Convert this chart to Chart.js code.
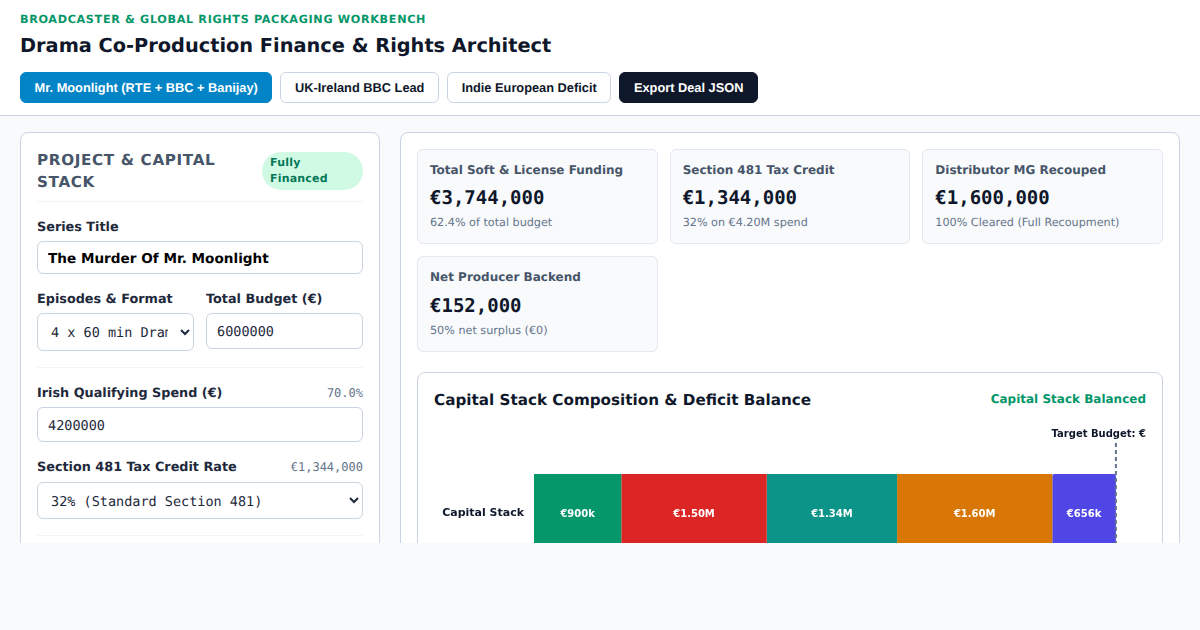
<!DOCTYPE html>
<html>
<head>
<meta charset="utf-8">
<title>Drama Co-Production Finance & Rights Architect</title>
<script src="https://cdn.jsdelivr.net/npm/chart.js@4"></script>
<style>
* { box-sizing: border-box; text-rendering: geometricPrecision; }
html, body { margin: 0; height: 630px; overflow: hidden; background: #f8fafc; font-family: "DejaVu Sans", sans-serif; color: #0f172a; }
header { height: 116px; background: #fff; border-bottom: 1px solid #cbd5e1; padding: 13px 20px 0; }
.eyebrow { font-size: 11.2px; line-height: 13px; font-weight: 700; letter-spacing: .67px; color: #059669; }
h1 { font-size: 19.35px; line-height: 26px; font-weight: 700; margin: 7px 0 0; color: #0f172a; }
.btns { display: flex; gap: 8px; margin-top: 13px; }
.btn { height: 31px; padding: 0 13.6px; border: 1px solid #cbd5e1; border-radius: 6px; background: #fff; color: #0f172a; font: 700 12.8px "Liberation Sans", sans-serif; display: flex; align-items: center; }
.btn.blue { background: #0284c7; border-color: #0284c7; color: #fff; }
.btn.dark { background: #0f172a; border-color: #0f172a; color: #fff; }
main { position: relative; height: 427px; overflow: hidden; }
.panel { position: absolute; top: 16px; background: #fff; border: 1px solid #cbd5e1; border-radius: 8px; height: 600px; }
.left { left: 20px; width: 360px; padding: 16px; }
.right { left: 400px; width: 780px; padding: 16px; }
.phead { display: flex; justify-content: space-between; align-items: center; border-bottom: 1px solid #f1f5f9; height: 53px; padding: 1px 0 9px; }
.phead h2 { margin: 0; font-size: 15.2px; line-height: 22px; font-weight: 700; letter-spacing: .65px; color: #475569; width: 200px; }
.pill { width: 101px; height: 38px; border-radius: 19px; background: #d1fae5; color: #047857; font-size: 11px; line-height: 16px; font-weight: 700; padding: 3px 8px; letter-spacing: .2px; }
label { position: relative; top: 1px; font-size: 12.8px; line-height: 16px; font-weight: 700; color: #1e293b; display: block; }
.field { position: absolute; }
input, select { display: block; width: 100%; border: 1px solid #cbd5e1; border-radius: 6px; background: #fff; color: #1e293b; font: 13.5px "DejaVu Sans Mono", monospace; padding: 2px 10px 0; margin: 0; outline: 0; }
.mono-note { position: absolute; right: 0; top: 1px; font: 12px "DejaVu Sans Mono", monospace; color: #64748b; }
.rule { position: absolute; left: 16px; width: 326px; height: 1px; background: #f1f5f9; }
.cards { position: absolute; left: 16px; top: 16px; width: 746px; display: grid; grid-template-columns: repeat(3, 1fr); column-gap: 12px; row-gap: 12px; }
.card { height: 95px; background: #f8fafc; border: 1px solid #e2e8f0; border-radius: 6px; padding: 12px; }
.card.tall { height: 96px; }
.card b { display: block; font-size: 12px; line-height: 16px; color: #475569; }
.card strong { position: relative; top: 1px; display: block; font: 700 19px/24px "DejaVu Sans Mono", monospace; color: #0f172a; margin-top: 7px; }
.card.tall strong { margin-top: 8px; }
.card span { display: block; font-size: 11.2px; line-height: 14px; color: #64748b; margin-top: 7px; }
.chartcard { position: absolute; left: 16px; top: 239px; width: 746px; height: 400px; border: 1px solid #cbd5e1; border-radius: 8px; background: #fff; }
.chartcard h3 { position: absolute; left: 16px; top: 17px; margin: 0; font-size: 15.2px; line-height: 20px; font-weight: 700; color: #0f172a; }
.status { position: absolute; right: 16px; top: 18px; font-size: 12px; line-height: 16px; font-weight: 700; color: #059669; }
.canvasbox { position: absolute; left: 16px; top: 47px; width: 712px; height: 200px; }
</style>
</head>
<body>
<header>
  <div class="eyebrow">BROADCASTER &amp; GLOBAL RIGHTS PACKAGING WORKBENCH</div>
  <h1>Drama Co-Production Finance &amp; Rights Architect</h1>
  <div class="btns">
    <div class="btn blue">Mr. Moonlight (RTE + BBC + Banijay)</div>
    <div class="btn">UK-Ireland BBC Lead</div>
    <div class="btn">Indie European Deficit</div>
    <div class="btn dark">Export Deal JSON</div>
  </div>
</header>
<main>
  <section class="panel left">
    <div class="phead"><h2>PROJECT &amp; CAPITAL STACK</h2><div class="pill">Fully Financed</div></div>
    <div class="field" style="left:16px;top:86px;width:326px"><label>Series Title</label>
      <input value="The Murder Of Mr. Moonlight" style="height:33px;margin-top:6px;font:700 13.6px 'DejaVu Sans',sans-serif;color:#000"></div>
    <div class="field" style="left:16px;top:158px;width:157px"><label>Episodes &amp; Format</label>
      <select style="height:38px;margin-top:6px;padding:2px 9px 0"><option>4 x 60 min Drama</option></select></div>
    <div class="field" style="left:185px;top:158px;width:157px"><label>Total Budget (€)</label>
      <input value="6000000" style="height:36px;margin-top:6px"></div>
    <div class="rule" style="top:234px"></div>
    <div class="field" style="left:16px;top:252px;width:326px"><label>Irish Qualifying Spend (€)</label><div class="mono-note">70.0%</div>
      <input value="4200000" style="height:35px;margin-top:6px"></div>
    <div class="field" style="left:16px;top:326px;width:326px"><label>Section 481 Tax Credit Rate</label><div class="mono-note">€1,344,000</div>
      <select style="height:37px;margin-top:7px;padding:2px 9px 0"><option>32% (Standard Section 481)</option></select></div>
    <div class="rule" style="top:402px"></div>
  </section>
  <section class="panel right">
    <div class="cards">
      <div class="card"><b>Total Soft &amp; License Funding</b><strong>€3,744,000</strong><span>62.4% of total budget</span></div>
      <div class="card"><b>Section 481 Tax Credit</b><strong>€1,344,000</strong><span>32% on €4.20M spend</span></div>
      <div class="card"><b>Distributor MG Recouped</b><strong>€1,600,000</strong><span>100% Cleared (Full Recoupment)</span></div>
      <div class="card tall"><b>Net Producer Backend</b><strong>€152,000</strong><span>50% net surplus (€0)</span></div>
    </div>
    <div class="chartcard">
      <h3>Capital Stack Composition &amp; Deficit Balance</h3>
      <div class="status">Capital Stack Balanced</div>
      <div class="canvasbox"><canvas id="stackChart"></canvas></div>
    </div>
  </section>
</main>
<script>
const categories = ['Capital Stack'];
const seriesNames = ['Broadcaster Licence', 'Distribution Soft Money', 'Section 481', 'Distributor MG', 'Equity / Deficit'];
const seriesValues = [900000, 1500000, 1344000, 1600000, 656000];
const seriesLabels = ['€900k', '€1.50M', '€1.34M', '€1.60M', '€656k'];
const seriesColors = ['#059669', '#dc2626', '#0d9488', '#d97706', '#4f46e5'];
const targetBudget = 6000000;
const axisMax = 6300000;
const targetLabel = 'Target Budget: €';

const stackLabels = {
    id: 'stackLabels',
    afterDatasetsDraw(chart) {
        const ctx = chart.ctx;
        ctx.save();
        ctx.fillStyle = '#fff';
        ctx.font = '700 10px "DejaVu Sans"';
        ctx.textAlign = 'center';
        ctx.textBaseline = 'middle';
        chart.data.datasets.forEach((ds, i) => {
            const bar = chart.getDatasetMeta(i).data[0];
            ctx.fillText(seriesLabels[i], (bar.x + bar.base) / 2, bar.y + 0.5);
        });
        ctx.restore();
    }
};

const targetLine = {
    id: 'targetLine',
    afterDatasetsDraw(chart) {
        const ctx = chart.ctx;
        const x = chart.scales.x.getPixelForValue(targetBudget);
        ctx.save();
        ctx.strokeStyle = '#64748b';
        ctx.lineWidth = 2;
        ctx.setLineDash([4, 3]);
        ctx.beginPath();
        ctx.moveTo(x, chart.chartArea.top);
        ctx.lineTo(x, chart.chartArea.bottom);
        ctx.stroke();
        ctx.setLineDash([]);
        ctx.fillStyle = '#0f172a';
        ctx.font = '700 10px "DejaVu Sans"';
        ctx.textAlign = 'right';
        ctx.textBaseline = 'middle';
        ctx.fillText(targetLabel, chart.width, chart.chartArea.top - 9);
        ctx.restore();
    }
};

new Chart(document.getElementById('stackChart'), {
    type: 'bar',
    data: {
        labels: categories,
        datasets: seriesValues.map((v, i) => ({
            label: seriesNames[i],
            data: [v],
            backgroundColor: seriesColors[i],
            borderColor: '#ffffff',
            borderWidth: 0,
            borderRadius: 2,
            borderSkipped: false,
            categoryPercentage: 0.8,
            barPercentage: 0.7
        }))
    },
    options: {
        indexAxis: 'y',
        responsive: true,
        maintainAspectRatio: false,
        animation: false,
        layout: { padding: { top: 23, bottom: 36, right: 1 } },
        plugins: { legend: { display: false }, tooltip: { enabled: false } },
        scales: {
            x: { stacked: true, display: false, min: 0, max: axisMax },
            y: {
                stacked: true,
                grid: { display: false, drawTicks: false },
                border: { display: false },
                afterFit(scale) { scale.width = 100; },
                ticks: { color: '#0f172a', padding: 10, font: { size: 11, weight: '700', family: '"DejaVu Sans"' } }
            }
        }
    },
    plugins: [stackLabels, targetLine]
});
</script>
</body>
</html>
